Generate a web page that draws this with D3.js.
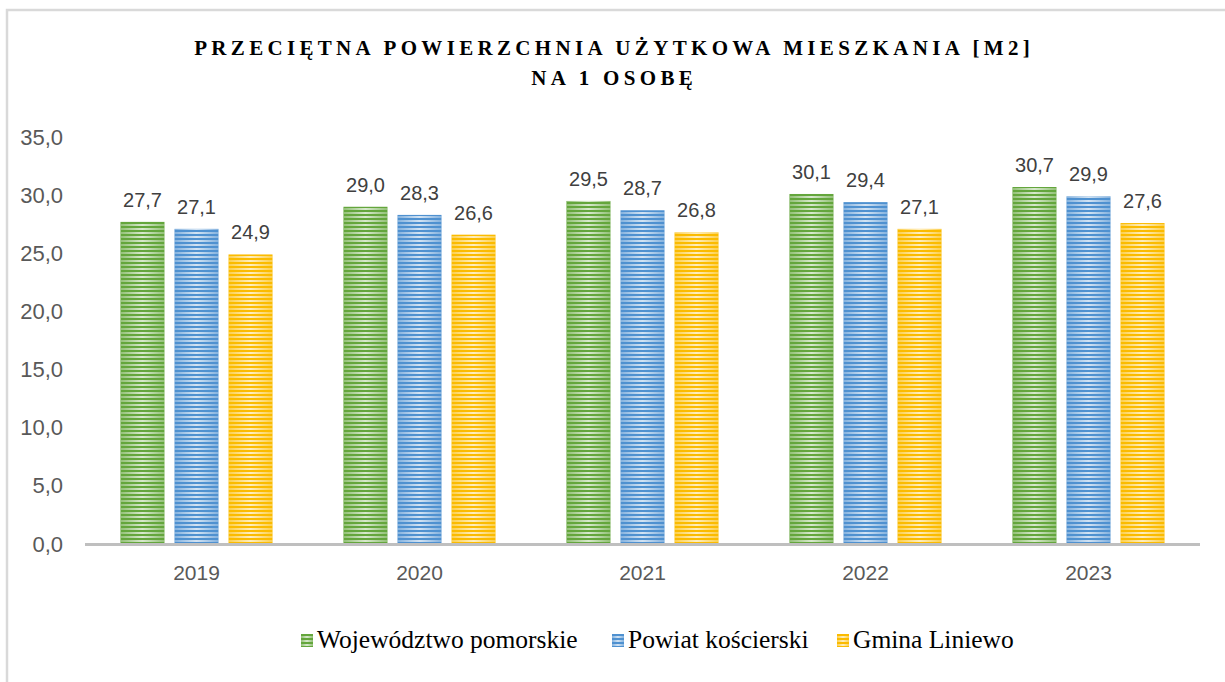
<!DOCTYPE html>
<html>
<head>
<meta charset="utf-8">
<script src="https://cdn.jsdelivr.net/npm/d3@7"></script>
<style>
  html, body { margin: 0; padding: 0; background: #fff; }
  svg { display: block; }
</style>
</head>
<body>
<svg id="chart" width="1225" height="682"></svg>
<script>
// Average usable floor area of a dwelling per person [m2]
const years = ["2019", "2020", "2021", "2022", "2023"];
const seriesNames = ["Województwo pomorskie", "Powiat kościerski", "Gmina Liniewo"];
const wojewodztwo = [27.7, 29.0, 29.5, 30.1, 30.7];
const powiat = [27.1, 28.3, 28.7, 29.4, 29.9];
const gmina = [24.9, 26.6, 26.8, 27.1, 27.6];
const yTicks = [0, 5, 10, 15, 20, 25, 30, 35];
const titleLines = ["PRZECIĘTNA POWIERZCHNIA UŻYTKOWA MIESZKANIA [M2]", "NA 1 OSOBĘ"];

const seriesValues = [wojewodztwo, powiat, gmina];
const colors = ["#70AD47", "#5B9BD5", "#FFC000"];
const darkStripe = ["#64a63c", "#4f91d0", "#fbbb00"];

const plLocale = d3.formatLocale({ decimal: ",", thousands: " ", grouping: [3], currency: ["", " zł"] });
const fmt = plLocale.format(".1f");

const svg = d3.select("#chart");
const defs = svg.append("defs");

// Horizontal stripe mask shared by every bar
const stripes = defs.append("pattern")
  .attr("id", "stripes").attr("patternUnits", "userSpaceOnUse")
  .attr("width", 8).attr("height", 4);
stripes.append("rect").attr("x", 0).attr("y", 0).attr("width", 8).attr("height", 2).attr("fill", "#fff");
defs.append("mask").attr("id", "stripeMask")
  .attr("maskUnits", "userSpaceOnUse").attr("x", 0).attr("y", 0).attr("width", 1225).attr("height", 682)
  .append("rect").attr("x", 0).attr("y", 0).attr("width", 1225).attr("height", 682)
  .attr("fill", "url(#stripes)");

// Sheen across each bar: lighter in the middle, darker at the edges
colors.forEach((c, i) => {
  const g = defs.append("linearGradient").attr("id", "sheen" + i)
    .attr("x1", "0%").attr("x2", "100%").attr("y1", "0%").attr("y2", "0%");
  g.append("stop").attr("offset", "0%").attr("stop-color", "#fff").attr("stop-opacity", 0.3);
  g.append("stop").attr("offset", "50%").attr("stop-color", "#fff").attr("stop-opacity", 0.75);
  g.append("stop").attr("offset", "100%").attr("stop-color", "#fff").attr("stop-opacity", 0.3);
});

// Outer chart frame
svg.append("rect").attr("x", 7).attr("y", 10).attr("width", 1240).attr("height", 700)
  .attr("fill", "none").attr("stroke", "#d9d9d9").attr("stroke-width", 2.5);

// Title: spaced-out bold capitals, first line stretched to a fixed width
const title = svg.append("g")
  .attr("font-family", "'Liberation Serif', serif")
  .attr("font-weight", "bold").attr("font-size", 21).attr("fill", "#000");
const titleWidth = 840;
const t0 = title.append("text").attr("x", 612).attr("y", 55).attr("text-anchor", "middle").text(titleLines[0]);
const natural = t0.node().getComputedTextLength();
const spacing = (titleWidth - natural) / titleLines[0].length;
titleLines.forEach((t, i) => {
  const el = i === 0 ? t0 : title.append("text").attr("x", 612).attr("y", 55 + i * 30)
    .attr("text-anchor", "middle").text(t);
  el.attr("letter-spacing", spacing).attr("x", 612 + spacing / 2);
});

// Scales
const x0 = d3.scaleBand().domain(years).range([85, 1200])
  .paddingInner(0.318).paddingOuter(0.159);
const x1 = d3.scaleBand().domain(d3.range(seriesNames.length))
  .range([0, x0.bandwidth()]).paddingInner(0.185).paddingOuter(0);
const y = d3.scaleLinear().domain([0, 35]).range([544, 137]);

// Y axis labels (no axis line, no gridlines)
const yAxis = svg.append("g").attr("transform", "translate(68,0)")
  .call(d3.axisLeft(y).tickValues(yTicks).tickFormat(fmt).tickSize(0).tickPadding(5));
yAxis.select(".domain").remove();
yAxis.selectAll("text")
  .attr("font-family", "'Liberation Sans', Arial, sans-serif")
  .attr("font-size", 22).attr("fill", "#595959");

// Bars
const groups = svg.selectAll("g.year").data(years).join("g")
  .attr("class", "year").attr("transform", d => `translate(${x0(d)},0)`);

seriesValues.forEach((vals, si) => {
  groups.append("rect")
    .attr("x", x1(si)).attr("width", x1.bandwidth())
    .attr("y", (d, i) => y(vals[i])).attr("height", (d, i) => y(0) - y(vals[i]))
    .attr("fill", darkStripe[si]);
  groups.append("rect")
    .attr("x", x1(si)).attr("width", x1.bandwidth())
    .attr("y", (d, i) => y(vals[i])).attr("height", (d, i) => y(0) - y(vals[i]))
    .attr("fill", `url(#sheen${si})`)
    .attr("mask", "url(#stripeMask)");
  groups.append("text")
    .attr("x", x1(si) + x1.bandwidth() / 2)
    .attr("y", (d, i) => y(vals[i]) - 15)
    .attr("text-anchor", "middle")
    .attr("font-family", "'Liberation Sans', Arial, sans-serif")
    .attr("font-size", 20).attr("fill", "#404040")
    .text((d, i) => fmt(vals[i]));
});

// X axis
const xAxis = svg.append("g").attr("transform", `translate(0,${y(0)})`)
  .call(d3.axisBottom(x0).tickSize(0).tickPadding(21));
xAxis.select(".domain").attr("stroke", "#bfbfbf").attr("stroke-width", 3)
  .attr("d", "M85,0.5H1200");
xAxis.selectAll("text")
  .attr("font-family", "'Liberation Sans', Arial, sans-serif")
  .attr("font-size", 21).attr("fill", "#595959");

// Legend
const legendX = [301, 612, 837];
const legend = svg.append("g");
seriesNames.forEach((name, i) => {
  legend.append("rect").attr("x", legendX[i]).attr("y", 634).attr("width", 12).attr("height", 13)
    .attr("fill", darkStripe[i]);
  legend.append("rect").attr("x", legendX[i]).attr("y", 634).attr("width", 12).attr("height", 13)
    .attr("fill", `url(#sheen${i})`).attr("mask", "url(#stripeMask)");
  legend.append("text").attr("x", legendX[i] + 16).attr("y", 648)
    .attr("font-family", "'Liberation Serif', serif").attr("font-size", 25.5).attr("fill", "#000")
    .text(name);
});
</script>
</body>
</html>
